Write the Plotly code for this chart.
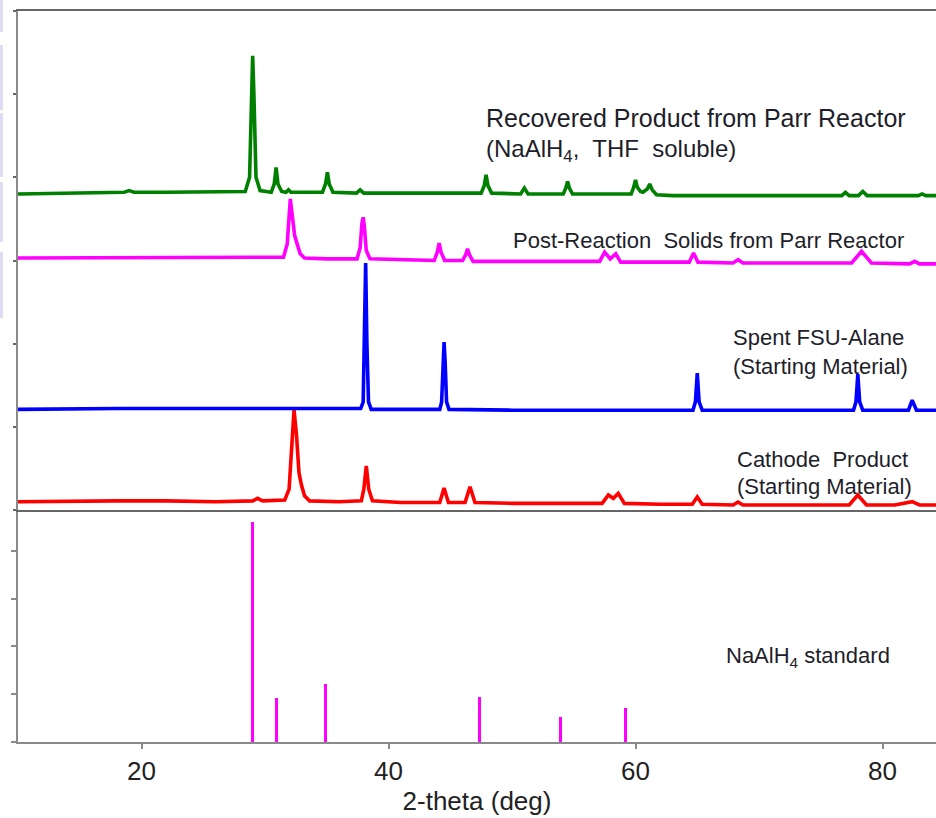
import plotly.graph_objects as go

# ---------------- data ----------------
# Stacked XRD traces, y in stacked arbitrary units (top panel)
green_x = [10, 13, 16, 18.6, 19.0, 19.4, 22, 25, 27.5, 28.4, 28.75, 28.92, 29.0, 29.1, 29.27, 29.6,
           30.5, 30.75, 30.9, 31.05, 31.35, 31.7, 31.9, 32.1, 33.5, 34.65, 34.9, 35.05, 35.2, 35.5,
           37.4, 37.7, 38.0, 41, 44, 47.5, 47.75, 47.9, 48.05, 48.35, 50.7, 51.0, 51.3,
           54.15, 54.35, 54.5, 54.65, 54.9, 57, 59.65, 59.85, 60.0, 60.15, 60.4, 60.6, 60.95, 61.15,
           61.35, 61.7, 63, 66, 70, 74, 76.7, 77.0, 77.3, 78.05, 78.4, 78.75, 81, 82.9, 83.2, 83.5, 84.4]
green_y = [3.80, 3.81, 3.81, 3.82, 3.84, 3.82, 3.82, 3.82, 3.82, 3.83, 4.00, 5.00, 5.46, 5.00, 4.00, 3.84,
           3.82, 3.92, 4.12, 3.92, 3.83, 3.82, 3.85, 3.82, 3.82, 3.82, 3.92, 4.06, 3.92, 3.82,
           3.81, 3.85, 3.81, 3.81, 3.81, 3.81, 3.90, 4.03, 3.90, 3.81, 3.80, 3.87, 3.80,
           3.80, 3.87, 3.95, 3.87, 3.80, 3.80, 3.80, 3.88, 3.97, 3.88, 3.83, 3.82, 3.86, 3.92,
           3.85, 3.79, 3.78, 3.78, 3.78, 3.78, 3.78, 3.82, 3.78, 3.78, 3.83, 3.78, 3.78, 3.78, 3.80, 3.78, 3.78]

magenta_x = [10, 14, 18, 22, 26, 30, 31.5, 31.8, 31.95, 32.05, 32.2, 32.4, 32.6, 32.85, 33.2,
             35, 37.45, 37.7, 37.85, 37.95, 38.05, 38.2, 38.5, 41, 43.7, 43.95, 44.1, 44.25, 44.55,
             46.0, 46.25, 46.4, 46.55, 46.85, 50, 54, 57.1, 57.5, 57.95, 58.4, 58.8,
             61, 64.35, 64.7, 65.05, 67.9, 68.3, 68.7, 72, 77.5, 78.3, 79.1, 82.2, 82.6, 83.0, 84.4]
magenta_y = [3.03, 3.03, 3.04, 3.03, 3.03, 3.03, 3.04, 3.20, 3.60, 3.74, 3.55, 3.30, 3.20, 3.08, 3.03,
             3.02, 3.02, 3.15, 3.45, 3.52, 3.40, 3.12, 3.02, 3.01, 3.00, 3.10, 3.21, 3.10, 3.00,
             3.00, 3.07, 3.14, 3.07, 2.99, 2.99, 2.99, 2.99, 3.10, 3.02, 3.08, 2.98,
             2.98, 2.98, 3.09, 2.98, 2.97, 3.01, 2.97, 2.97, 2.97, 3.11, 2.97, 2.96, 2.99, 2.96, 2.96]

blue_x = [10, 14, 18, 22, 26, 30, 34, 37.75, 37.95, 38.05, 38.15, 38.25, 38.38, 38.6,
          41, 44.15, 44.3, 44.42, 44.5, 44.58, 44.7, 44.9, 50, 56, 62, 64.65, 64.85, 65.0, 65.15, 65.4,
          70, 75, 77.65, 77.85, 78.0, 78.15, 78.4, 81, 82.1, 82.4, 82.75, 84.4]
blue_y = [1.21, 1.22, 1.22, 1.22, 1.22, 1.21, 1.21, 1.22, 1.30, 2.00, 2.97, 2.00, 1.30, 1.21,
          1.21, 1.21, 1.30, 1.80, 2.02, 1.80, 1.30, 1.21, 1.20, 1.20, 1.20, 1.20, 1.30, 1.647, 1.30, 1.20,
          1.20, 1.20, 1.20, 1.30, 1.635, 1.30, 1.20, 1.20, 1.20, 1.32, 1.20, 1.20]

red_x = [10, 14, 18, 22, 26, 29.0, 29.4, 29.8, 31.6, 31.95, 32.15, 32.35, 32.55, 32.75, 32.95, 33.2, 33.6,
         36, 37.8, 38.0, 38.2, 38.4, 38.7, 41, 44.15, 44.5, 44.85, 46.2, 46.6, 47.0,
         50, 54, 57.3, 57.8, 58.2, 58.6, 59.1, 62, 64.6, 65.0, 65.4, 67.9, 68.3, 68.7,
         72, 77.3, 78.0, 78.7, 81, 82.4, 83.0, 84.4]
red_y = [0.10, 0.11, 0.11, 0.11, 0.10, 0.11, 0.14, 0.11, 0.12, 0.25, 0.80, 1.20, 0.90, 0.45, 0.30, 0.17, 0.11,
         0.10, 0.11, 0.25, 0.53, 0.25, 0.11, 0.09, 0.09, 0.265, 0.09, 0.09, 0.28, 0.09,
         0.08, 0.08, 0.08, 0.18, 0.14, 0.20, 0.08, 0.07, 0.07, 0.156, 0.07, 0.06, 0.096, 0.06,
         0.06, 0.06, 0.18, 0.06, 0.06, 0.10, 0.06, 0.06]

# NaAlH4 standard reference sticks (bottom panel)
std_x = [28.95, 30.9, 34.9, 47.4, 53.95, 59.15]
std_y = [92.3, 18.6, 24.3, 19.0, 10.6, 14.4]

x_ticks = [20, 40, 60, 80]
x_tick_labels = ["20", "40", "60", "80"]

# ---------------- figure ----------------
W, H = 936, 818
L, R, T, B = 18, 0, 11, 76
PW, PH = W - L - R, H - T - B


def px(xp):
    return (xp - L) / PW


def py(yp):
    return (H - B - yp) / PH


fig = go.Figure()
font_family = "Liberation Sans, Arial, sans-serif"

for xs, ys, col in [(red_x, red_y, "#ff0000"), (blue_x, blue_y, "#0000ff"),
                    (magenta_x, magenta_y, "#ff00ff"), (green_x, green_y, "#008000")]:
    fig.add_trace(go.Scatter(x=xs, y=ys, mode="lines", line=dict(color=col, width=3.6),
                             xaxis="x2", yaxis="y2", showlegend=False, hoverinfo="skip"))

fig.add_trace(go.Bar(x=std_x, y=std_y, width=0.24, marker=dict(color="#ff00ff", line=dict(width=0)),
                     xaxis="x", yaxis="y", showlegend=False))

axis_col = "#8a8a8a"
bottom_top = py(512)
top_bottom = py(510)

fig.update_layout(
    width=W, height=H,
    margin=dict(l=L, r=R, t=T, b=B, pad=0),
    paper_bgcolor="white", plot_bgcolor="white",
    font=dict(family=font_family, color="#222222"),
    bargap=0,
    xaxis=dict(domain=[0, 1], range=[10, 84.33], showline=True, linecolor=axis_col, linewidth=2,
               ticks="outside", ticklen=5, tickcolor=axis_col, tickwidth=1.5,
               tickvals=x_ticks, ticktext=x_tick_labels, tickfont=dict(size=26, color="#222222"),
               showgrid=False, zeroline=False,
               title=dict(text="2-theta (deg)", font=dict(size=26, color="#222222"), standoff=5)),
    yaxis=dict(domain=[0, bottom_top], range=[0, 96.3], showline=True, linecolor=axis_col, linewidth=2,
               ticks="outside", ticklen=5, tickcolor=axis_col, tickwidth=1.5,
               tickvals=[0, 20, 40, 60, 80], showticklabels=False, showgrid=False, zeroline=False),
    xaxis2=dict(domain=[0, 1], range=[10, 84.33], anchor="y2", showline=True, linecolor="#666666",
                linewidth=2, mirror=True, ticks="", showticklabels=False, showgrid=False, zeroline=False),
    yaxis2=dict(domain=[top_bottom, 1], range=[0, 6], anchor="x2", showline=True, linecolor=axis_col,
                linewidth=2, ticks="outside", ticklen=3, tickcolor="#666666", tickwidth=1.5,
                tickvals=[0, 1, 2, 3, 4, 5, 6], showticklabels=False, showgrid=False, zeroline=False),
)

# decorative pale stripe at the far left edge of the reference
for y0, y1 in [(0, 32), (45, 110), (113, 177), (182, 242), (252, 318)]:
    fig.add_shape(type="rect", xref="paper", yref="paper", x0=px(0), x1=px(3), y0=py(y1), y1=py(y0),
                  fillcolor="#dcdcf2", line=dict(width=0), layer="below")

labels = [
    ("Recovered Product from Parr Reactor", 484, 118, 25),
    ("(NaAlH<sub>4</sub>,  THF  soluble)", 484, 150, 24),
    ("Post-Reaction  Solids from Parr Reactor", 511, 240, 22),
    ("Spent FSU-Alane", 731, 338, 22),
    ("(Starting Material)", 731, 366, 22),
    ("Cathode  Product", 735, 459, 22),
    ("(Starting Material)", 735, 486, 22),
    ("NaAlH<sub>4</sub> standard", 724, 657, 22),
]
for text, xl, yc, fs in labels:
    fig.add_annotation(text=text, xref="paper", yref="paper", x=px(xl), y=py(yc),
                       xanchor="left", yanchor="middle", showarrow=False,
                       font=dict(size=fs, color="#1e1e2a", family=font_family))

fig.write_html("out.html")
